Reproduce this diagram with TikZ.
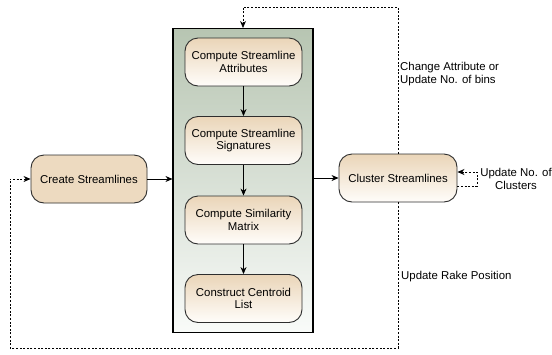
\documentclass[tikz,border=0pt]{standalone}
\usepackage{fontspec}
\setmainfont{Liberation Sans}
\usetikzlibrary{arrows.meta}

\definecolor{tanTop}{HTML}{EAD5B8}
\definecolor{tanBot}{HTML}{FFFDFA}
\definecolor{tanFlat}{HTML}{EDDAC0}
\definecolor{boxTop}{HTML}{B7C5B2}
\definecolor{boxBot}{HTML}{F9FBF9}
\definecolor{edgeGray}{HTML}{2E2E2E}

\tikzset{
    stage/.style={draw=edgeGray,line width=0.9pt,rounded corners=13pt,
        minimum width=117pt,minimum height=48pt,align=center,
        top color=tanTop,bottom color=tanBot},
    flow/.style={-{Stealth[length=7pt,width=6pt]},line width=0.7pt},
    feedback/.style={-{Stealth[length=7pt,width=6pt]},line width=0.7pt,
        dash pattern=on 2pt off 1.6pt},
    note/.style={inner sep=1pt}
}

\begin{document}
\begin{tikzpicture}[x=1pt,y=-1pt,font=\fontsize{11.4}{12.6}\selectfont]
    \useasboundingbox (0,0) rectangle (552,354);

    % Contenedor
    \node[draw,line width=1.1pt,minimum width=140pt,minimum height=304pt,
        top color=boxTop,bottom color=boxBot] (box) at (243,180.5) {};

    % Etapas internas
    \node[stage] (attr) at (243.5,62)  {Compute Streamline\\Attributes};
    \node[stage] (sig)  at (243.5,140.5) {Compute Streamline\\Signatures};
    \node[stage] (sim)  at (243.5,220) {Compute Similarity\\Matrix};
    \node[stage] (cent) at (243.5,298.5) {Construct Centroid\\List};

    % Etapas externas
    \node[stage,fill=tanFlat,top color=tanFlat,bottom color=tanFlat,minimum width=116pt]
        (create) at (89,179) {Create Streamlines};
    \node[stage,minimum width=118pt] (cluster) at (398,178) {Cluster Streamlines};

    % Flujo principal
    \draw[flow] (create.east) -- (create.east -| box.west);
    \draw[flow] (cluster.west -| box.east) -- (cluster.west);
    \foreach \a/\b in {attr/sig,sig/sim,sim/cent} {
        \draw[flow] (\a) -- (\b);
    }

    % Retroalimentacion
    \coordinate (topc) at (398,7);
    \coordinate (botc) at (398,348);
    \coordinate (leftc) at (10,348);
    \coordinate (loopA) at (477,186);
    \coordinate (loopB) at (477,172);
    \draw[feedback] (cluster.north) -- (topc) -| (box.north);
    \draw[feedback] (cluster.south) -- (botc) -- (leftc) |- (create.west);
    \draw[feedback] (loopA -| cluster.east) -- (loopA) -- (loopB) -- (loopB -| cluster.east);

    % Etiquetas
    \node[note,anchor=west,align=left] (lblbins) at (399,74) {Change Attribute or\\Update No. of bins};
    \node[note,align=center] (lblclu) at (516,179) {Update No. of\\Clusters};
    \node[note,anchor=west] (lblrake) at (400,277) {Update Rake Position};
\end{tikzpicture}
\end{document}
